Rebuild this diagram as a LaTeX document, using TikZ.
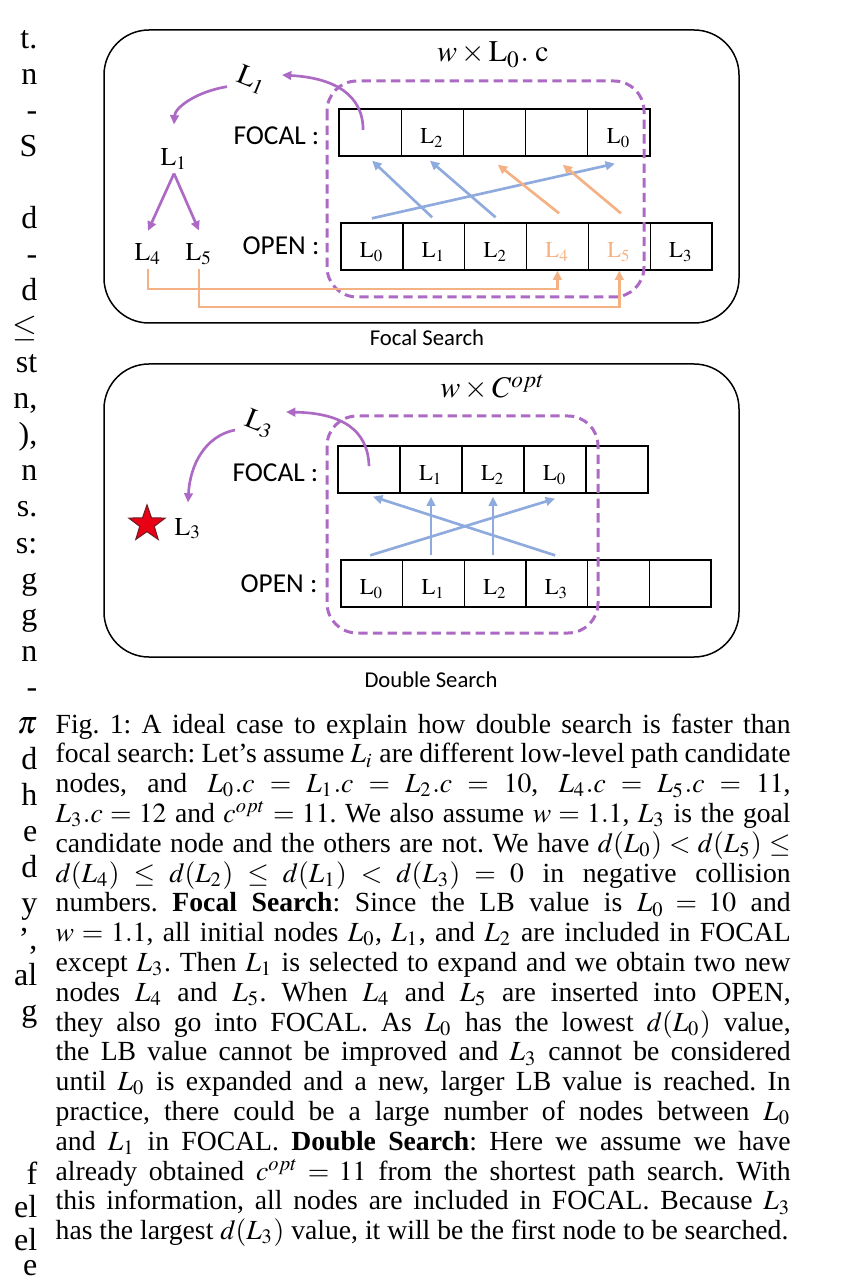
\documentclass[tikz,border=0pt]{standalone}
\usepackage{mathptmx}
\usepackage{fontspec}
\setmainfont{Liberation Serif}
\newfontfamily\calibrifont{Carlito}
\usetikzlibrary{arrows.meta,shapes.geometric,calc}
\definecolor{mypurple}{RGB}{172,106,196}
\definecolor{myblue}{RGB}{143,170,220}
\definecolor{myorange}{RGB}{244,177,131}
\definecolor{myred}{RGB}{232,0,20}
\definecolor{mydark}{RGB}{110,30,40}
\begin{document}
\begin{tikzpicture}[x=0.3pt,y=-0.3pt,
  panel/.style={draw=black, line width=0.45pt, rounded corners=13.5pt},
  focalbox/.style={draw=mypurple, line width=0.9pt, dash pattern=on 2.8pt off 1.6pt, rounded corners=9pt},
  cell/.style={draw=black, line width=0.4pt, minimum height=14.1pt, inner sep=0pt,
    text height=7.5pt, text depth=0.7pt, font=\fontsize{6.8}{8}\selectfont},
  lab/.style={font=\calibrifont\fontsize{8.2}{9}\selectfont, anchor=base east, inner sep=0pt},
  subcap/.style={font=\calibrifont\fontsize{6.8}{8}\selectfont, inner sep=0pt},
  nm/.style={font=\fontsize{7.7}{9}\selectfont, inner sep=0pt},
  ttl/.style={font=\fontsize{9}{10}\selectfont, inner sep=0pt, anchor=base},
  rot/.style={font=\fontsize{8.6}{10}\selectfont, inner sep=0pt, rotate=-22},
  barr/.style={draw=myblue, line width=0.8pt, -{Triangle[length=2.8pt,width=2.6pt]}},
  oarr/.style={draw=myorange, line width=0.8pt, -{Triangle[length=2.8pt,width=2.6pt]}},
  parr/.style={draw=mypurple, line width=0.8pt, -{Triangle[length=2.8pt,width=2.6pt]}},
  frag/.style={font=\fontsize{9.6}{10}\selectfont, anchor=base east, inner sep=0pt}
]
\useasboundingbox (0,0) rectangle (844,1277);

%%% ---------- Focal Search panel ----------
\draw[panel] (104,30) rectangle (739,323);
\node[ttl] (ttl1) at (493,62) {$w\times \mathrm{L}_0.\;\mathrm{c}$};

\node[cell, minimum width=18.66pt] (f1) at (370.1,132.5) {};
\node[cell, minimum width=18.66pt] (f2) at (432.3,132.5) {$\mathrm{L}_2$};
\node[cell, minimum width=18.66pt] (f3) at (494.5,132.5) {};
\node[cell, minimum width=18.66pt] (f4) at (556.7,132.5) {};
\node[cell, minimum width=18.66pt] (f5) at (618.9,132.5) {$\mathrm{L}_0$};

\node[cell, minimum width=18.55pt] (o1) at (371.9,246.5) {$\mathrm{L}_0$};
\node[cell, minimum width=18.55pt] (o2) at (433.8,246.5) {$\mathrm{L}_1$};
\node[cell, minimum width=18.55pt] (o3) at (495.6,246.5) {$\mathrm{L}_2$};
\node[cell, minimum width=18.55pt, text=myorange] (o4) at (557.4,246.5) {$\mathrm{L}_4$};
\node[cell, minimum width=18.55pt, text=myorange] (o5) at (619.3,246.5) {$\mathrm{L}_5$};
\node[cell, minimum width=18.55pt] (o6) at (681.1,246.5) {$\mathrm{L}_3$};

\node[lab] (fl1) at (320,145) {FOCAL :};
\node[lab] (ol1) at (320,255) {OPEN :};

\node[nm] (L1t) at (174,159) {$\mathrm{L}_1$};
\node[nm] (L4) at (148,254) {$\mathrm{L}_4$};
\node[nm] (L5) at (199,254) {$\mathrm{L}_5$};
\node[rot] (L1r) at (252,80) {$\mathrm{L}_1$};

\draw[focalbox] (327,81) rectangle (644,297);

\draw[barr] ([yshift=1.5pt,xshift=-0.5pt]o2.north) -- ([yshift=-1.2pt,xshift=0.6pt]f1.south);
\draw[barr] ([yshift=1.5pt]o3.north) -- ([yshift=-1.2pt,xshift=-0.7pt]f2.south);
\draw[barr] ([yshift=1.2pt]o1.north) -- ([yshift=-2.1pt,xshift=-1.2pt]f5.south);
\draw[oarr] ([yshift=2.7pt,xshift=0.5pt]o4.north) -- ([yshift=-2.4pt,xshift=1pt]f3.south);
\draw[oarr] ([yshift=2.7pt,xshift=0.5pt]o5.north) -- ([yshift=-2.4pt,xshift=1.8pt]f4.south);

\coordinate (h4) at (0,289);
\coordinate (h5) at (0,307);
\draw[oarr] ([yshift=-1pt]L4.south) |- (o4.south |- h4) -- (o4.south);
\draw[oarr] ([yshift=-1pt]L5.south) |- (o5.south |- h5) -- (o5.south);

\draw[parr] ([yshift=-1pt]L1t.south) -- ([yshift=3.6pt]L4.north);
\draw[parr] ([yshift=-1pt]L1t.south) -- ([yshift=3.6pt]L5.north);

\coordinate (tip1) at (282,75);
\draw[parr] ([xshift=-2.1pt,yshift=0.75pt]f1.center) .. controls (363,95) and (335,78) .. (tip1);
\draw[parr] ([xshift=-7.5pt,yshift=-2pt]L1r.center) .. controls (195,92) and (175,108) .. ([yshift=7pt]L1t.north);

\node[subcap] (cap1) at (427,338) {Focal Search};

%%% ---------- Double Search panel ----------
\draw[panel] (104,364) rectangle (739,657);
\node[ttl] (ttl2) at (493,398) {$w\times C^{opt}$};

\node[cell, minimum width=18.6pt] (g1) at (369,469.5) {};
\node[cell, minimum width=18.6pt] (g2) at (431,469.5) {$\mathrm{L}_1$};
\node[cell, minimum width=18.6pt] (g3) at (493,469.5) {$\mathrm{L}_2$};
\node[cell, minimum width=18.6pt] (g4) at (555,469.5) {$\mathrm{L}_0$};
\node[cell, minimum width=18.6pt] (g5) at (617,469.5) {};

\node[cell, minimum width=18.5pt] (p1) at (371.8,583.5) {$\mathrm{L}_0$};
\node[cell, minimum width=18.5pt] (p2) at (433.5,583.5) {$\mathrm{L}_1$};
\node[cell, minimum width=18.5pt] (p3) at (495.2,583.5) {$\mathrm{L}_2$};
\node[cell, minimum width=18.5pt] (p4) at (556.8,583.5) {$\mathrm{L}_3$};
\node[cell, minimum width=18.5pt] (p5) at (618.5,583.5) {};
\node[cell, minimum width=18.5pt] (p6) at (680.2,583.5) {};

\node[lab] (fl2) at (319,482) {FOCAL :};
\node[lab] (ol2) at (318,592) {OPEN :};

\draw[focalbox] (327,416) rectangle (598,633);

\draw[barr] ([yshift=1.2pt,xshift=-0.5pt]p1.north) -- ([yshift=-1.5pt]g4.south);
\draw[barr] ([yshift=1.2pt,xshift=-0.5pt]p4.north) -- ([yshift=-0.9pt,xshift=1.2pt]g1.south);
\draw[barr] ([yshift=1.2pt,xshift=-0.75pt]p2.north) -- ([yshift=-0.9pt]g2.south);
\draw[barr] ([yshift=1.2pt,xshift=-0.66pt]p3.north) -- ([yshift=-0.9pt]g3.south);

\node[rot] (L3r) at (260,424) {$\mathrm{L}_3$};
\node[star, star points=5, star point ratio=2.5, fill=myred, draw=mydark, line width=0.3pt,
      minimum size=11.5pt, inner sep=0pt] (st) at (147,524) {};
\node[nm] (L3s) at (188,528.5) {$\mathrm{L}_3$};

\coordinate (tip2) at (286,412);
\draw[parr] ([yshift=1pt]g1.center) .. controls (368,430) and (342,413) .. (tip2);
\draw[parr] ([xshift=-7.5pt,yshift=-1.8pt]L3r.center) .. controls (205,436) and (190,465) .. ([yshift=4.4pt]L3s.north);

\node[subcap] (cap2) at (431,680) {Double Search};

%%% ---------- caption ----------
\node[anchor=north west, inner sep=0pt, text width=220.5pt, align=justify,
      font=\fontsize{8.3}{8.94}\selectfont] (caption) at (55,713) {%
\frenchspacing\parfillskip=0pt
Fig.~1: A ideal case to explain how double search is faster than\linebreak
focal search: Let’s assume $L_i$ are different low-level path candidate\linebreak
nodes, and $L_0.c = L_1.c = L_2.c = 10$, $L_4.c = L_5.c = 11$,\linebreak
$L_3.c = 12$ and $c^{opt} = 11$. We also assume $w = 1.1$, $L_3$ is the goal\linebreak
candidate node and the others are not. We have $d(L_0) < d(L_5) \le$\linebreak
$d(L_4) \le d(L_2) \le d(L_1) < d(L_3) = 0$ in negative collision\linebreak
numbers. \textbf{Focal Search}: Since the LB value is $L_0 = 10$ and\linebreak
$w = 1.1$, all initial nodes $L_0$, $L_1$, and $L_2$ are included in FOCAL\linebreak
except $L_3$. Then $L_1$ is selected to expand and we obtain two new\linebreak
nodes $L_4$ and $L_5$. When $L_4$ and $L_5$ are inserted into OPEN,\linebreak
they also go into FOCAL. As $L_0$ has the lowest $d(L_0)$ value,\linebreak
the LB value cannot be improved and $L_3$ cannot be considered\linebreak
until $L_0$ is expanded and a new, larger LB value is reached. In\linebreak
practice, there could be a large number of nodes between $L_0$\linebreak
and $L_1$ in FOCAL. \textbf{Double Search}: Here we assume we have\linebreak
already obtained $c^{opt} = 11$ from the shortest path search. With\linebreak
this information, all nodes are included in FOCAL. Because $L_3$\linebreak
has the largest $d(L_3)$ value, it will be the first node to be searched.};

%%% ---------- cut-off fragments of the neighbouring column ----------
\node[frag] (z01) at (38,49) {t.};
\node[frag] (z02) at (38,85) {n};
\node[frag] (z03) at (38,121) {-};
\node[frag] (z04) at (38,157) {S};
\node[frag] (z05) at (38,229) {d};
\node[frag] (z06) at (38,265) {-};
\node[frag] (z07) at (38,301) {d};
\node[frag] (z08) at (38,337) {$\le$};
\node[frag] (z09) at (38,373) {st};
\node[frag] (z10) at (38,409) {n,};
\node[frag] (z11) at (38,445) {),};
\node[frag] (z12) at (38,481) {n};
\node[frag] (z13) at (38,517) {s.};
\node[frag] (z14) at (38,553) {s:};
\node[frag] (z15) at (38,589) {g};
\node[frag] (z16) at (38,625) {g};
\node[frag] (z17) at (38,661) {n};
\node[frag] (z18) at (38,697) {-};
\node[frag] (z19) at (38,733) {$\pi$};
\node[frag] (z20) at (38,769) {d};
\node[frag] (z21) at (38,805) {h};
\node[frag] (z22) at (38,841) {e};
\node[frag] (z23) at (38,877) {d};
\node[frag] (z24) at (38,913) {y};
\node[frag] (z25) at (38,949) {’,};
\node[frag] (z26) at (38,985) {al};
\node[frag] (z27) at (38,1021) {g};
\node[frag] (z28) at (38,1184) {f};
\node[frag] (z29) at (38,1217) {el};
\node[frag] (z30) at (38,1250) {el};
\node[frag] (z31) at (38,1275) {e};
\end{tikzpicture}
\end{document}
